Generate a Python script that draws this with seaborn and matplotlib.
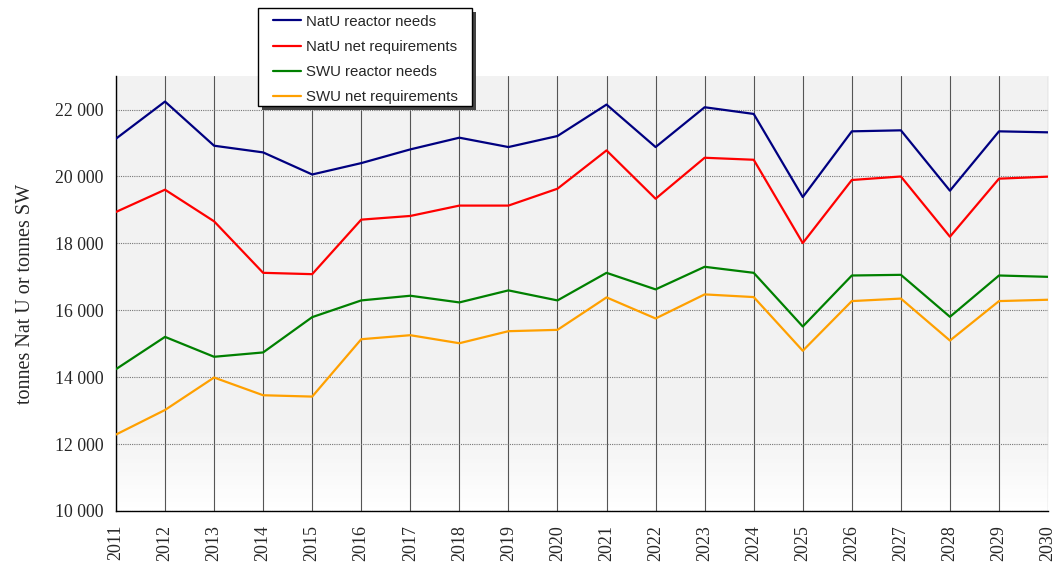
import numpy as np
import pandas as pd
import matplotlib
matplotlib.use("Agg")
import matplotlib.pyplot as plt
from matplotlib.patches import Rectangle
from matplotlib.ticker import FuncFormatter, MultipleLocator
import seaborn as sns

years = list(range(2011, 2031))

natu_reactor = [21130, 22240, 20920, 20720, 20060, 20400, 20810, 21160, 20880, 21210,
                22150, 20880, 22070, 21870, 19385, 21350, 21380, 19575, 21350, 21320]
natu_net = [18940, 19605, 18660, 17120, 17080, 18710, 18820, 19130, 19130, 19635,
            20780, 19335, 20560, 20500, 18010, 19895, 20000, 18200, 19935, 19995]
swu_reactor = [14240, 15205, 14610, 14740, 15795, 16295, 16435, 16235, 16595, 16295,
               17120, 16625, 17300, 17120, 15515, 17040, 17060, 15805, 17040, 17000]
swu_net = [12285, 13020, 13990, 13460, 13420, 15135, 15255, 15015, 15375, 15415,
           16385, 15755, 16475, 16395, 14790, 16275, 16350, 15095, 16275, 16315]

series_names = ["NatU reactor needs", "NatU net requirements",
                "SWU reactor needs", "SWU net requirements"]
colors = ["#000080", "#ff0000", "#008000", "#ffa000"]

df = pd.DataFrame({
    "year": years * 4,
    "value": natu_reactor + natu_net + swu_reactor + swu_net,
    "series": sum([[n] * len(years) for n in series_names], []),
})

sns.set_style("white")

fig = plt.figure(figsize=(10.58, 5.64), dpi=100)
ax = fig.add_axes([0.1096, 0.094, 0.881, 0.771])

# light grey background fading to white at the bottom
grad = np.ones((100, 1))
grad[:20, 0] = np.linspace(1.0, 0.0, 20)
grad[20:, 0] = 0.0
ax.imshow(grad[::-1], cmap=matplotlib.colors.LinearSegmentedColormap.from_list("bg", ["#f2f2f2", "#ffffff"]),
          aspect="auto", extent=[0, 1, 0, 1], transform=ax.transAxes, zorder=0, vmin=0, vmax=1)

sns.lineplot(data=df, x="year", y="value", hue="series", palette=colors,
             linewidth=1.6, ax=ax, legend=False, zorder=3)

ax.set_xlim(2011, 2030)
ax.set_ylim(10000, 23000)
ax.set_xticks(years)
ax.set_xticklabels([str(y) for y in years], rotation=90, family="Liberation Serif", fontsize=13)
ax.xaxis.set_minor_locator(MultipleLocator(0.5))
ax.yaxis.set_major_locator(MultipleLocator(2000))
ax.yaxis.set_major_formatter(FuncFormatter(lambda v, p: f"{int(v):,}".replace(",", " ")))
for lab in ax.get_yticklabels():
    lab.set_family("Liberation Serif")
    lab.set_fontsize(12.8)

ax.tick_params(axis="y", which="major", direction="out", length=6, width=1, color="black", pad=3)
ax.tick_params(axis="x", which="major", direction="out", length=0, pad=10)
ax.tick_params(axis="x", which="minor", direction="in", length=5, width=0.8, color="black")

ax.grid(axis="x", color="#555555", linewidth=0.8, linestyle="-", zorder=1)
ax.grid(axis="y", color="#777777", linewidth=0.8, linestyle=(0, (1, 1)), zorder=1)
ax.set_axisbelow(True)

for side in ["top", "right"]:
    ax.spines[side].set_visible(False)
ax.spines["left"].set_color("black")
ax.spines["bottom"].set_color("black")
ax.spines["left"].set_linewidth(1)
ax.spines["bottom"].set_linewidth(1)

ax.set_xlabel("")
ax.set_ylabel("tonnes Nat U or tonnes SW", family="Liberation Serif", fontsize=14.5, labelpad=14)

# legend box drawn by hand (wide frame, drop shadow), entries placed inside it
fig.patches.append(Rectangle((0.2477, 0.8050), 0.2023, 0.1738, transform=fig.transFigure,
                             facecolor="#444444", edgecolor="none", zorder=4))
fig.patches.append(Rectangle((0.2439, 0.8121), 0.2023, 0.1738, transform=fig.transFigure,
                             facecolor="white", edgecolor="black", linewidth=1, zorder=5))
handles = [plt.Line2D([], [], color=c, linewidth=1.6) for c in colors]
leg = fig.legend(handles, series_names, loc="upper left", bbox_to_anchor=(0.258, 0.974),
                 frameon=False, prop={"family": "Liberation Sans", "size": 10.8},
                 handlelength=1.9, handletextpad=0.3, labelspacing=0.74,
                 borderpad=0, borderaxespad=0)
leg.set_zorder(6)

fig.savefig("out.png", dpi=100)
